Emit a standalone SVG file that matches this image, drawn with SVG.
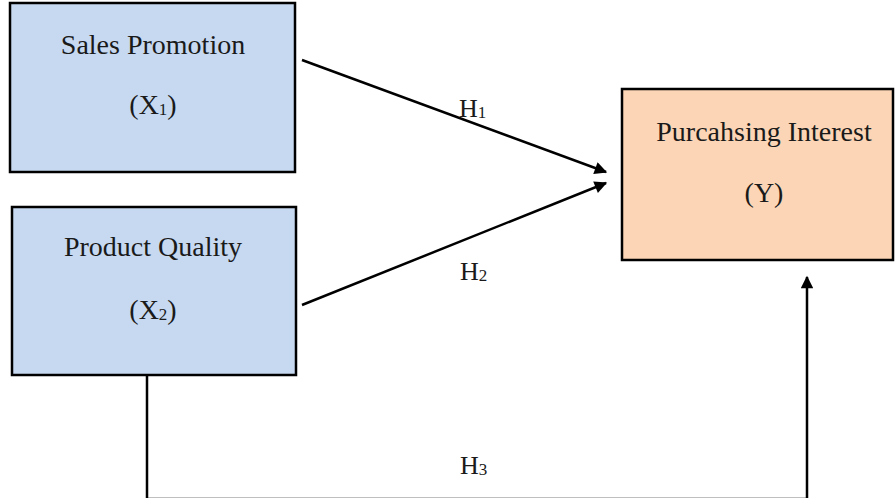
<svg xmlns="http://www.w3.org/2000/svg" width="895" height="498" viewBox="0 0 895 498">
  <style>
    .box { stroke: #000; stroke-width: 2.5; }
    .blue { fill: #C6D9F1; }
    .orange { fill: #FBD5B5; }
    .t { font-family: "Liberation Serif", "Times New Roman", serif; font-size: 28px; fill: #1a1a1a; text-anchor: middle; }
    .h { font-family: "Liberation Serif", "Times New Roman", serif; font-size: 26px; fill: #1a1a1a; }
    .sub { font-size: 17px; }
    .conn { stroke: #000; stroke-width: 2.5; fill: none; }
  </style>
  <defs>
    <marker id="arr" viewBox="0 0 10 10" refX="9" refY="5" markerWidth="6" markerHeight="5" orient="auto" markerUnits="strokeWidth">
      <path d="M0,0 L10,5 L0,10 z" fill="#000"/>
    </marker>
  </defs>
  <rect width="895" height="498" fill="#fff"/>

  <g id="node-x1">
    <rect class="box blue" x="10" y="3" width="285" height="169"/>
    <text class="t" x="153" y="54">Sales Promotion</text>
    <text class="t" x="153" y="114">(X<tspan class="sub" dy="1">1</tspan><tspan dy="-1">)</tspan></text>
  </g>

  <g id="node-x2">
    <rect class="box blue" x="12" y="207" width="284" height="168"/>
    <text class="t" x="153" y="256">Product Quality</text>
    <text class="t" x="153" y="319">(X<tspan class="sub" dy="1">2</tspan><tspan dy="-1">)</tspan></text>
  </g>

  <g id="node-y">
    <rect class="box orange" x="622" y="89" width="271" height="171"/>
    <text class="t" x="764" y="141">Purcahsing Interest</text>
    <text class="t" x="764" y="202">(Y)</text>
  </g>

  <g id="connectors">
    <line class="conn" x1="302" y1="60" x2="606" y2="172" marker-end="url(#arr)"/>
    <line class="conn" x1="302" y1="305" x2="606" y2="183" marker-end="url(#arr)"/>
    <path class="conn" d="M147,375 V499 H807 V277" marker-end="url(#arr)"/>
    <text class="h" x="459" y="117">H<tspan class="sub" dy="1">1</tspan></text>
    <text class="h" x="460" y="280">H<tspan class="sub" dy="1">2</tspan></text>
    <text class="h" x="460" y="474">H<tspan class="sub" dy="1">3</tspan></text>
  </g>
</svg>
